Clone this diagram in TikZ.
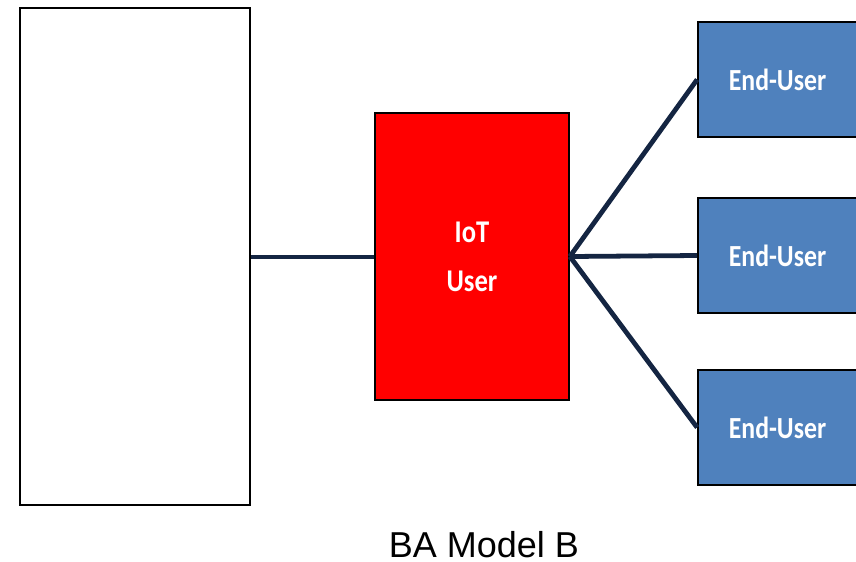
\documentclass[tikz,border=0pt]{standalone}
\usepackage{fontspec}
\setmainfont{Liberation Sans}
\newfontfamily\calibfont{Carlito}
\usetikzlibrary{positioning}
\definecolor{darknavy}{RGB}{20,37,66}
\definecolor{userblue}{RGB}{79,129,189}
\newcommand{\boxtext}[1]{\scalebox{0.84}[1]{#1}}

\begin{document}
\begin{tikzpicture}[x=0.025cm, y=-0.025cm, % 1 Einheit = 1 Pixel
  frame/.style={draw=black, line width=1.2pt, inner sep=0pt},
  iotbox/.style={frame, fill=red, text=white, minimum width=4.85cm, minimum height=7.175cm,
    align=center, font=\calibfont\bfseries\fontsize{22.5}{35}\selectfont},
  endbox/.style={frame, fill=userblue, text=white, minimum width=3.975cm, minimum height=2.875cm,
    font=\calibfont\bfseries\fontsize{21.8}{26}\selectfont},
  link/.style={draw=darknavy, line width=3.4pt}]

\useasboundingbox (0,0) rectangle (856,561);

% Kaesten
\node[frame, fill=white, minimum width=5.75cm, minimum height=12.425cm] (core) at (135,256.5) {};
\node[iotbox] (iot) at (472,256.5) {\boxtext{IoT}\\\boxtext{User}};
\foreach \i/\ypos in {1/79.5, 2/255.5, 3/427.5} {
  \node[endbox] (end\i) at (777.5,\ypos) {\boxtext{End-User}}; % End-User Kaesten
}

% Verbindungen
\draw[link] (core.east |- 0,257) -- (iot.west |- 0,257);
\foreach \i in {1,2,3} {
  \draw[link] (iot.east) -- (end\i.west);
}

% Titel
\node[anchor=base, inner sep=0pt, font=\fontsize{25.6}{30}\selectfont] (title) at (484,557) {BA Model B};

\end{tikzpicture}
\end{document}
